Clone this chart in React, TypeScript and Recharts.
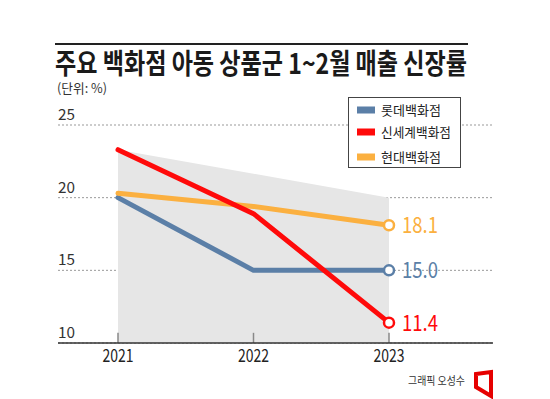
import React from 'react';
import { ComposedChart, Line, Area, XAxis, YAxis, CartesianGrid, ReferenceLine } from 'recharts';

const years = ['2021', '2022', '2023'];
const lotte = [20.0, 15.0, 15.0];
const shinsegae = [23.3, 18.9, 11.4];
const hyundai = [20.3, 19.4, 18.1];
const shade = [23.3, 21.65, 20.0];
const yTicks = [10, 15, 20, 25];
const seriesNames = ['롯데백화점', '신세계백화점', '현대백화점'];
const seriesKeys = ['lotte', 'shinsegae', 'hyundai'];
const colors = ['#5b7fa7', '#ff0a0a', '#fbb040'];
const title = '주요 백화점 아동 상품군 1~2월 매출 신장률';
const unit = '(단위: %)';
const credit = '그래픽 오성수';

const data = years.map((y, i) => ({
  year: y,
  lotte: lotte[i],
  shinsegae: shinsegae[i],
  hyundai: hyundai[i],
  shade: shade[i],
}));

const FONT = "'Noto Sans CJK KR', 'Noto Sans', sans-serif";

const makeDot = (color: string) => (props: any) => {
  const { cx, cy, index, value } = props;
  if (index !== years.length - 1) return <g key={`d${index}`} />;
  return (
    <g key={`d${index}`}>
      <circle cx={cx} cy={cy} r={5} fill="#fff" stroke={color} strokeWidth={2.5} />
      <text
        x={cx + 13}
        y={cy + 8}
        fill={color}
        fontSize={22}
        fontFamily={FONT}
        textLength={36}
        lengthAdjust="spacingAndGlyphs"
      >
        {Number(value).toFixed(1)}
      </text>
    </g>
  );
};

const YTick = (props: any) => {
  const { y, payload } = props;
  return (
    <text x={58} y={y - 5} fontSize={15} fill="#333" fontFamily={FONT} textLength={17} lengthAdjust="spacingAndGlyphs">
      {payload.value}
    </text>
  );
};

const XTick = (props: any) => {
  const { x, y, payload } = props;
  return (
    <text x={x} y={y + 19} fontSize={18} fill="#222" fontFamily={FONT} textAnchor="middle" textLength={31} lengthAdjust="spacingAndGlyphs">
      {payload.value}
    </text>
  );
};

export default function App() {
  const order = [0, 2, 1];
  return (
    <div style={{ position: 'absolute', left: 0, top: 0, width: 550, height: 399, background: '#fff', fontFamily: FONT }}>
      <ComposedChart width={550} height={399} data={data} margin={{ top: 125, right: 57, bottom: 55, left: 57 }}>
        <CartesianGrid vertical={false} strokeDasharray="2 2" stroke="#999" />
        <XAxis
          dataKey="year"
          height={1}
          padding={{ left: 60, right: 104 }}
          axisLine={{ stroke: '#333', strokeWidth: 1.5 }}
          tickLine={false}
          tickSize={0}
          tickMargin={0}
          tick={<XTick />}
          interval={0}
        />
        <YAxis
          width={1}
          domain={[10, 25]}
          ticks={yTicks}
          interval={0}
          axisLine={false}
          tickLine={false}
          tick={<YTick />}
          allowDataOverflow
        />
        <Area
          type="linear"
          dataKey="shade"
          fill="#e6e6e6"
          fillOpacity={1}
          stroke="none"
          isAnimationActive={false}
          dot={false}
          activeDot={false}
        />
        {years.map((y) => (
          <ReferenceLine
            key={y}
            segment={[{ x: y, y: 10 }, { x: y, y: 10.7 }]}
            stroke="#888"
            strokeWidth={1.5}
          />
        ))}
        {order.map((i) => (
          <Line
            key={seriesKeys[i]}
            type="linear"
            dataKey={seriesKeys[i]}
            name={seriesNames[i]}
            stroke={colors[i]}
            strokeWidth={5}
            strokeLinecap="round"
            strokeLinejoin="round"
            dot={makeDot(colors[i])}
            activeDot={false}
            isAnimationActive={false}
          />
        ))}
      </ComposedChart>
      <svg width={550} height={399} style={{ position: 'absolute', left: 0, top: 0, pointerEvents: 'none' }}>
        <line x1={55} y1={44} x2={468} y2={44} stroke="#222" strokeWidth={2} />
        <text x={55} y={74} fontSize={28} fontWeight={700} fill="#1a1a1a" fontFamily={FONT} textLength={412} lengthAdjust="spacingAndGlyphs">
          {title}
        </text>
        <text x={57} y={93} fontSize={13} fill="#333" fontFamily={FONT} textLength={50} lengthAdjust="spacingAndGlyphs">
          {unit}
        </text>
        <rect x={348.5} y={97.5} width={112} height={70} fill="#fff" stroke="#444" strokeWidth={1} />
        {seriesNames.map((n, i) => {
          const cy = [110, 132, 157][i];
          return (
            <g key={n}>
              <rect x={357} y={cy - 3.5} width={18} height={7} fill={colors[i]} />
              <text x={381} y={cy + 4.5} fontSize={13} fill="#222" fontFamily={FONT} textLength={n.length === 6 ? 70 : 60} lengthAdjust="spacingAndGlyphs">
                {n}
              </text>
            </g>
          );
        })}
        <text x={408} y={385} fontSize={11} fill="#333" fontFamily={FONT} textLength={57} lengthAdjust="spacingAndGlyphs">
          {credit}
        </text>
        <polygon points="476,374 491,372 491,396 476,387" fill="none" stroke="#e60000" strokeWidth={4} strokeLinejoin="miter" />
      </svg>
    </div>
  );
}
